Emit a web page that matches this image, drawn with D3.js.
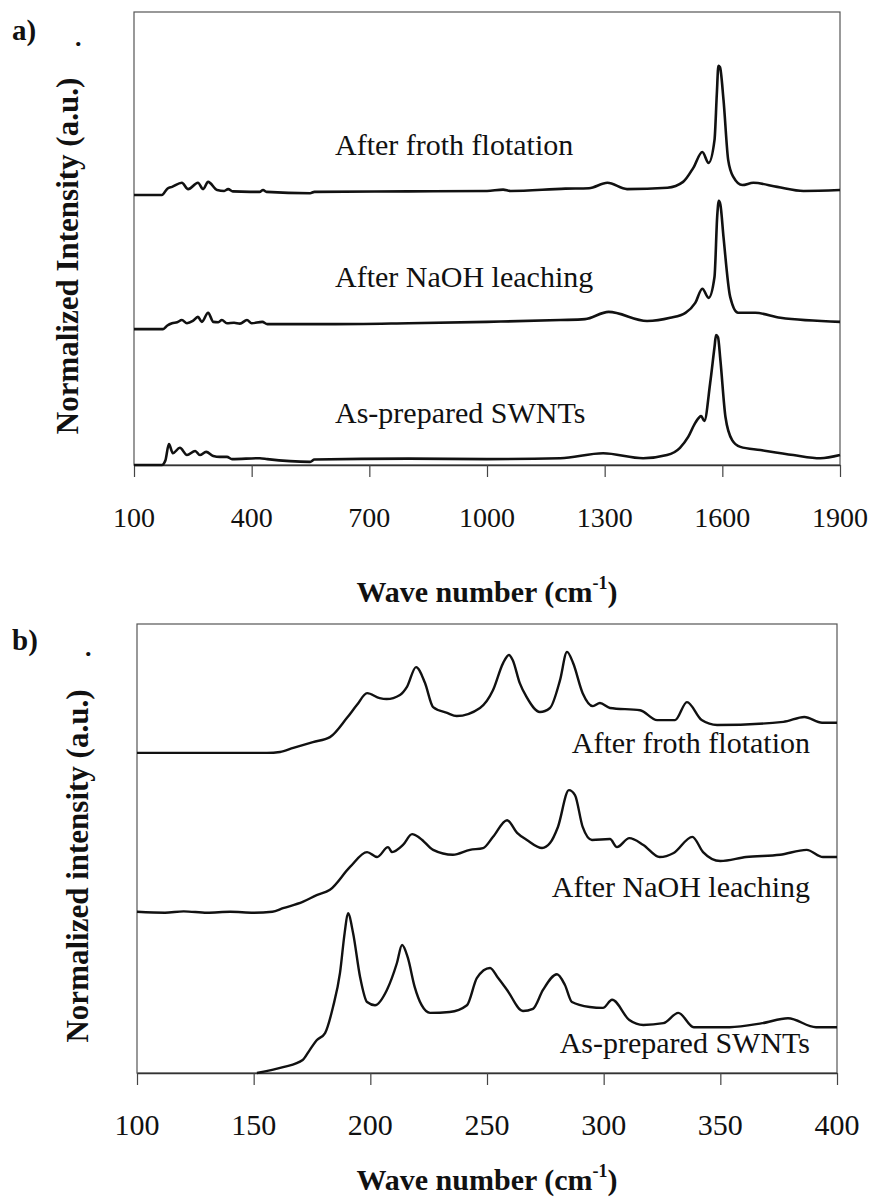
<!DOCTYPE html>
<html>
<head>
<meta charset="utf-8">
<script src="https://cdn.jsdelivr.net/npm/d3@7"></script>
<style>
  body { margin: 0; background: #fff; }
  svg { display: block; }
  text { font-family: "Liberation Serif", "Times New Roman", serif; fill: #111; }
</style>
</head>
<body>
<div id="chart"></div>
<script>
// tick labels
var ticksFull = [100, 400, 700, 1000, 1300, 1600, 1900];
var ticksRbm = [100, 150, 200, 250, 300, 350, 400];
var seriesNames = ["After froth flotation", "After NaOH leaching", "As-prepared SWNTs"];

// a) full range spectra, [wave number, stacked intensity a.u.]
var frothFull = [[100,5.96],[171,5.96],[185,6.10],[197,6.14],[222,6.23],[238,6.09],[263,6.23],[276,6.09],[289,6.25],[312,6.07],[330,6.05],[340,6.09],[352,6.04],[396,6.03],[420,6.03],[429,6.07],[438,6.03],[549,6.00],[560,6.03],[800,6.04],[1000,6.05],[1041,6.08],[1060,6.05],[1200,6.10],[1260,6.11],[1307,6.23],[1357,6.09],[1460,6.12],[1500,6.25],[1526,6.56],[1549,6.91],[1565,6.67],[1580,7.17],[1586,8.2],[1590,8.81],[1594,8.78],[1603,8.06],[1615,6.73],[1628,6.36],[1651,6.18],[1679,6.23],[1740,6.14],[1807,6.05],[1900,6.07]];
var naohFull = [[100,3.00],[174,3.00],[185,3.08],[197,3.13],[210,3.15],[222,3.20],[235,3.13],[250,3.18],[263,3.27],[273,3.16],[289,3.36],[302,3.16],[315,3.15],[324,3.20],[337,3.13],[355,3.14],[370,3.12],[388,3.20],[400,3.13],[427,3.16],[440,3.11],[600,3.11],[800,3.13],[1000,3.16],[1187,3.20],[1250,3.22],[1310,3.38],[1408,3.18],[1467,3.25],[1506,3.36],[1531,3.58],[1549,3.89],[1565,3.69],[1580,4.15],[1587,5.5],[1591,5.83],[1595,5.75],[1603,5.03],[1620,3.71],[1640,3.36],[1684,3.36],[1748,3.25],[1900,3.16]];
var asPreparedFull = [[100,0],[171,0],[180,0.10],[189,0.46],[199,0.26],[217,0.38],[235,0.22],[256,0.31],[268,0.22],[284,0.29],[302,0.20],[319,0.18],[337,0.18],[350,0.13],[421,0.15],[440,0.13],[549,0.07],[560,0.12],[800,0.14],[1000,0.13],[1187,0.15],[1296,0.26],[1398,0.15],[1459,0.22],[1492,0.38],[1513,0.62],[1531,0.93],[1546,1.08],[1554,0.97],[1569,1.81],[1580,2.6],[1584,2.87],[1589,2.82],[1595,2.32],[1608,1.06],[1625,0.55],[1646,0.40],[1697,0.33],[1781,0.22],[1850,0.15],[1900,0.22]];

// b) RBM region spectra
var frothRbm = [[100,7.13],[155.7,7.13],[161.3,7.15],[167,7.24],[175.4,7.37],[182.7,7.48],[190,7.91],[194.3,8.20],[198.6,8.46],[204,8.35],[207,8.33],[212.7,8.42],[215.7,8.60],[219.6,9.04],[223.4,8.69],[226.9,8.15],[232.9,8.02],[237,7.95],[247,8.13],[252.6,8.53],[256.9,9.13],[259.4,9.31],[261,9.20],[264,8.69],[267,8.37],[272.7,8.04],[277,8.13],[281.3,8.75],[284.3,9.38],[286.9,9.13],[291,8.46],[295.4,8.17],[298.4,8.24],[302.7,8.13],[315.6,8.08],[322.9,7.86],[330.6,7.86],[335.7,8.26],[342,7.86],[348.6,7.75],[377,7.82],[386,7.93],[393.6,7.80],[400,7.80]];
var naohRbm = [[100,3.59],[112,3.57],[120,3.60],[130,3.57],[140,3.59],[150,3.57],[158,3.59],[162.6,3.67],[171,3.81],[177,3.96],[182.7,4.08],[191.3,4.59],[198.6,4.92],[202.9,4.81],[207.6,5.03],[209.3,4.92],[214,5.08],[217.9,5.32],[221.3,5.23],[226.9,4.97],[235.4,4.86],[242.7,4.97],[248.3,5.01],[252.6,5.26],[258.6,5.63],[262.9,5.35],[267.1,5.19],[273.6,5.01],[277,5.12],[280.4,5.48],[285.1,6.30],[287.7,6.19],[291,5.48],[295,5.19],[302.7,5.21],[305.7,5.03],[311,5.23],[317,5.08],[324,4.81],[330,4.90],[338,5.26],[342.6,4.92],[350,4.72],[361,4.81],[375.6,4.86],[387,4.97],[394,4.81],[400,4.81]];
var asPreparedRbm = [[151.4,0],[162.6,0.13],[171,0.29],[174,0.51],[177,0.73],[180.6,0.89],[184,1.47],[187,2.23],[189,3.12],[190.4,3.56],[192.6,3.12],[195.6,2.14],[198.6,1.58],[202,1.51],[207.1,1.85],[211.4,2.45],[213.6,2.85],[216,2.58],[219,1.92],[222,1.51],[225.6,1.34],[234,1.36],[241.4,1.51],[245.7,2.12],[251.3,2.34],[254.7,2.12],[258.6,1.85],[265.4,1.38],[269.7,1.43],[274,1.85],[280,2.20],[283.4,1.96],[286.4,1.58],[294,1.47],[299.7,1.45],[303.6,1.63],[311,1.18],[317,1.07],[325.6,1.11],[332,1.34],[338.6,1.02],[354,1.02],[368,1.11],[379,1.22],[391,1.02],[400,1.02]];

var svg = d3.select("#chart").append("svg")
    .attr("width", 875)
    .attr("height", 1199);

function draw_panel(p) {
    var x = d3.scaleLinear().domain([p.ticks[0], p.ticks[p.ticks.length - 1]]).range([p.left, p.right]);
    var y = d3.scaleLinear().domain([0, 10]).range([p.bottom, p.top]);
    var g = svg.append("g");

    // frame
    g.append("rect")
        .attr("x", p.left).attr("y", p.top)
        .attr("width", p.right - p.left).attr("height", p.bottom - p.top)
        .attr("fill", "none").attr("stroke", "#555").attr("stroke-width", 1.2);

    // bottom axis, ticks pointing out
    var axis = g.append("g")
        .attr("transform", `translate(0,${p.bottom})`)
        .call(d3.axisBottom(x).tickValues(p.ticks).tickSize(12).tickSizeOuter(0).tickFormat(d3.format("d")));
    axis.select(".domain").attr("stroke", "#333").attr("stroke-width", 1.5);
    axis.selectAll(".tick line").attr("stroke", "#444").attr("stroke-width", 1.2);
    axis.selectAll(".tick text").remove();

    g.selectAll(".ticklab")
        .data(p.ticks)
        .join("text")
        .attr("x", d => x(d))
        .attr("y", p.tickY)
        .attr("text-anchor", "middle")
        .attr("font-size", p.tickSize)
        .text(d => d);

    var line = d3.line().curve(d3.curveMonotoneX).x(d => x(d[0])).y(d => y(d[1]));
    g.selectAll(".trace")
        .data(p.series)
        .join("path")
        .attr("d", d => line(d))
        .attr("fill", "none")
        .attr("stroke", "#111")
        .attr("stroke-width", p.lineW)
        .attr("stroke-linejoin", "round");

    // series labels
    g.selectAll(".lab")
        .data(seriesNames)
        .join("text")
        .attr("x", p.labX)
        .attr("y", (d, i) => p.labY[i])
        .attr("text-anchor", p.labAnchor)
        .attr("font-size", 30)
        .text(d => d);

    // y label
    g.append("text")
        .attr("transform", `translate(${p.yLabX},${p.yLabY}) rotate(-90)`)
        .attr("text-anchor", "middle")
        .attr("font-size", 31)
        .attr("font-weight", "bold")
        .text(p.yLabel);
    g.append("text")
        .attr("x", p.dot[0]).attr("y", p.dot[1])
        .attr("font-size", 26).attr("font-weight", "bold")
        .text(".");

    // panel letter
    g.append("text")
        .attr("x", 12).attr("y", p.letterY)
        .attr("font-size", 29).attr("font-weight", "bold")
        .text(p.letter);

    // x label
    var xl = g.append("text")
        .attr("x", (p.left + p.right) / 2)
        .attr("y", p.xLabY)
        .attr("text-anchor", "middle")
        .attr("font-size", 30)
        .attr("font-weight", "bold");
    xl.append("tspan").text("Wave number (cm");
    xl.append("tspan").attr("font-size", 18).attr("dy", -13).text("-1");
    xl.append("tspan").attr("dy", 13).text(")");
}

draw_panel({
    ticks: ticksFull, left: 134, right: 840, top: 12, bottom: 465,
    series: [frothFull, naohFull, asPreparedFull], lineW: 2.6,
    tickY: 527, tickSize: 28,
    labX: 335, labAnchor: "start", labY: [155, 287, 423],
    yLabel: "Normalized Intensity (a.u.)", yLabX: 78, yLabY: 256, dot: [75, 46],
    letter: "a)", letterY: 40, xLabY: 602
});

draw_panel({
    ticks: ticksRbm, left: 137, right: 837, top: 624, bottom: 1073,
    series: [frothRbm, naohRbm, asPreparedRbm], lineW: 2.4,
    tickY: 1135, tickSize: 30,
    labX: 810, labAnchor: "end", labY: [753, 897, 1053],
    yLabel: "Normalized intensity (a.u.)", yLabX: 88, yLabY: 866, dot: [85, 656],
    letter: "b)", letterY: 650, xLabY: 1190
});
</script>
</body>
</html>
